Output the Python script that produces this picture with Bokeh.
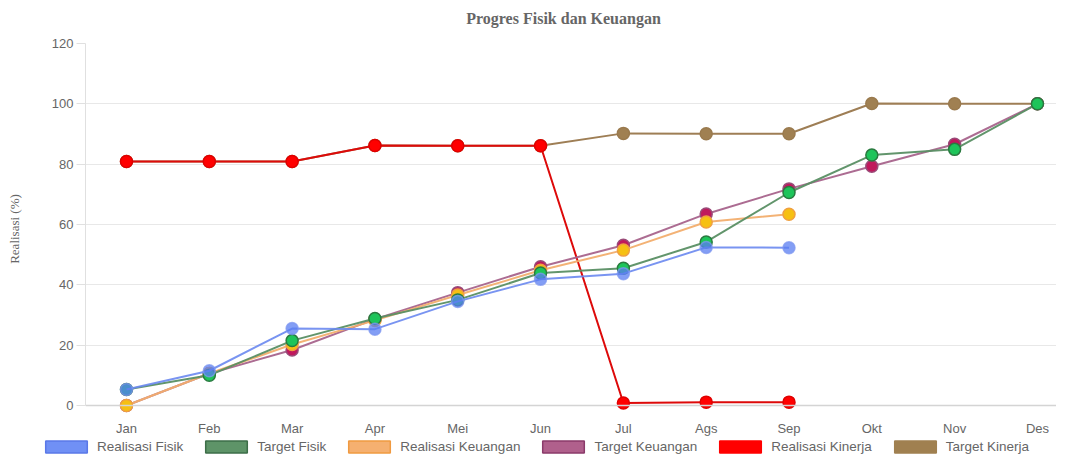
from bokeh.plotting import figure
from bokeh.layouts import column
from bokeh.models import Legend, LegendItem, Span, FixedTicker, ColumnDataSource, Label
from bokeh.embed import file_html
from bokeh.resources import INLINE

title_text = "Progres Fisik dan Keuangan"
months = ["Jan", "Feb", "Mar", "Apr", "Mei", "Jun", "Jul", "Ags", "Sep", "Okt", "Nov", "Des"]

realisasi_fisik = [5.3, 11.5, 25.5, 25.3, 34.5, 41.8, 43.7, 52.4, 52.3]
target_fisik = [5.3, 10.0, 21.5, 28.8, 35.0, 43.9, 45.5, 54.2, 70.6, 83.0, 84.9, 100.0]
realisasi_keuangan = [0.0, 10.6, 20.2, 28.2, 36.6, 44.8, 51.5, 60.8, 63.4]
target_keuangan = [0.0, 10.6, 18.4, 28.6, 37.4, 46.0, 53.1, 63.5, 71.8, 79.3, 86.6, 100.0]
realisasi_kinerja = [80.9, 80.9, 80.9, 86.2, 86.1, 86.1, 0.8, 1.1, 1.1]
target_kinerja = [80.9, 80.9, 80.9, 86.2, 86.1, 86.1, 90.2, 90.1, 90.1, 100.1, 100.0, 100.0]

series = [
    ("Realisasi Fisik", realisasi_fisik, "#6a88f0", 0.9, "#5a7ef2", "#7d97f0", "#7090f5", "#5a78e8", 0.75),
    ("Target Fisik", target_fisik, "#5a8f64", 0.95, "#1ec45a", "#2a7a40", "#5e9468", "#3d6e48", 1.0),
    ("Realisasi Keuangan", realisasi_keuangan, "#f2ae6e", 0.95, "#f6c012", "#f0a040", "#f5b070", "#f09a40", 1.0),
    ("Target Keuangan", target_keuangan, "#a8648c", 0.95, "#c0185c", "#9a4a78", "#b0608c", "#8a3a6a", 1.0),
    ("Realisasi Kinerja", realisasi_kinerja, "#dd0a0a", 1.0, "#ff0000", "#e00000", "#ff0000", "#ff0000", 1.0),
    ("Target Kinerja", target_kinerja, "#9e7e55", 1.0, "#a08052", "#9a7a4e", "#a08050", "#a08050", 1.0),
]

ticks_y = [0, 20, 40, 60, 80, 100, 120]

# title strip
tt = figure(width=1056, height=33, output_backend="svg", toolbar_location=None,
            x_range=(0, 1), y_range=(0, 1), x_axis_type=None, y_axis_type=None,
            min_border=0, min_border_left=0, min_border_right=0,
            min_border_top=0, min_border_bottom=0)
tt.frame_align = False
tt.outline_line_color = None
tt.add_layout(Label(x=563, y=15, x_units="screen", y_units="screen", text=title_text,
                    text_align="center", text_baseline="middle",
                    text_font="Liberation Serif", text_font_size="16px",
                    text_font_style="bold", text_color="#666666"))

p = figure(width=1056, height=405, output_backend="svg", toolbar_location=None,
           x_range=(-0.495, 11.23), y_range=(-3, 120),
           min_border_left=85, min_border_right=0, min_border_top=10, min_border_bottom=24)
p.frame_align = False
p.outline_line_color = None
p.xgrid.grid_line_color = None
p.ygrid.grid_line_color = "#e8e8e8"
p.ygrid.ticker = FixedTicker(ticks=ticks_y)

p.yaxis.ticker = FixedTicker(ticks=ticks_y)
p.yaxis.bounds = (0, 120)
p.yaxis.axis_line_color = "#e0e0e0"
p.yaxis.major_tick_line_color = "#e0e0e0"
p.yaxis.major_tick_out = 9
p.yaxis.major_tick_in = 0
p.yaxis.minor_tick_line_color = None
p.yaxis.major_label_text_font = "Liberation Sans"
p.yaxis.major_label_text_font_size = "13px"
p.yaxis.major_label_text_color = "#666666"
p.yaxis.major_label_standoff = 3
p.yaxis.axis_label = "Realisasi (%)"
p.yaxis.axis_label_text_font = "Liberation Serif"
p.yaxis.axis_label_text_font_style = "normal"
p.yaxis.axis_label_text_font_size = "13px"
p.yaxis.axis_label_text_color = "#666666"
p.yaxis.axis_label_standoff = 27

p.xaxis.ticker = FixedTicker(ticks=list(range(len(months))))
p.xaxis.major_label_overrides = {i: m for i, m in enumerate(months)}
p.xaxis.axis_line_color = None
p.xaxis.major_tick_line_color = None
p.xaxis.major_tick_out = 0
p.xaxis.major_tick_in = 0
p.xaxis.minor_tick_line_color = None
p.xaxis.major_label_text_font = "Liberation Sans"
p.xaxis.major_label_text_font_size = "13px"
p.xaxis.major_label_text_color = "#666666"
p.xaxis.major_label_standoff = 6

p.add_layout(Span(location=0, dimension="width", line_color="#d4d4d4", line_width=1.5))

for name, vals, lc, la, mf, ml, lf, lb, malpha in reversed(series):
    src = ColumnDataSource(dict(x=list(range(len(vals))), y=vals))
    p.line("x", "y", source=src, line_color=lc, line_alpha=la, line_width=2)
    p.scatter("x", "y", source=src, size=12, fill_color=mf, fill_alpha=malpha,
              line_color=ml, line_alpha=malpha, line_width=1.5)

# legend strip
lg = figure(width=1056, height=16, output_backend="svg", toolbar_location=None,
            x_range=(0, 1), y_range=(0, 1), x_axis_type=None, y_axis_type=None,
            min_border=0, min_border_left=0, min_border_right=0,
            min_border_top=0, min_border_bottom=0)
lg.frame_align = False
lg.outline_line_color = None
nan = float("nan")
items = []
for name, vals, lc, la, mf, ml, lf, lb, malpha in series:
    box = lg.quad(left=[nan], right=[nan], top=[nan], bottom=[nan],
                  fill_color=lf, line_color=lb, line_width=1.5)
    items.append(LegendItem(label=name, renderers=[box]))

legend = Legend(items=items, orientation="horizontal", location=(40, 0),
                glyph_width=52, glyph_height=15, label_standoff=5, spacing=17,
                label_text_font="Liberation Sans", label_text_font_size="13.5px",
                label_text_color="#666666", border_line_color=None,
                background_fill_alpha=0, padding=0, margin=0, label_height=15)
lg.add_layout(legend, "center")

open("out.html", "w").write(file_html(column(tt, p, lg, spacing=0), INLINE))
